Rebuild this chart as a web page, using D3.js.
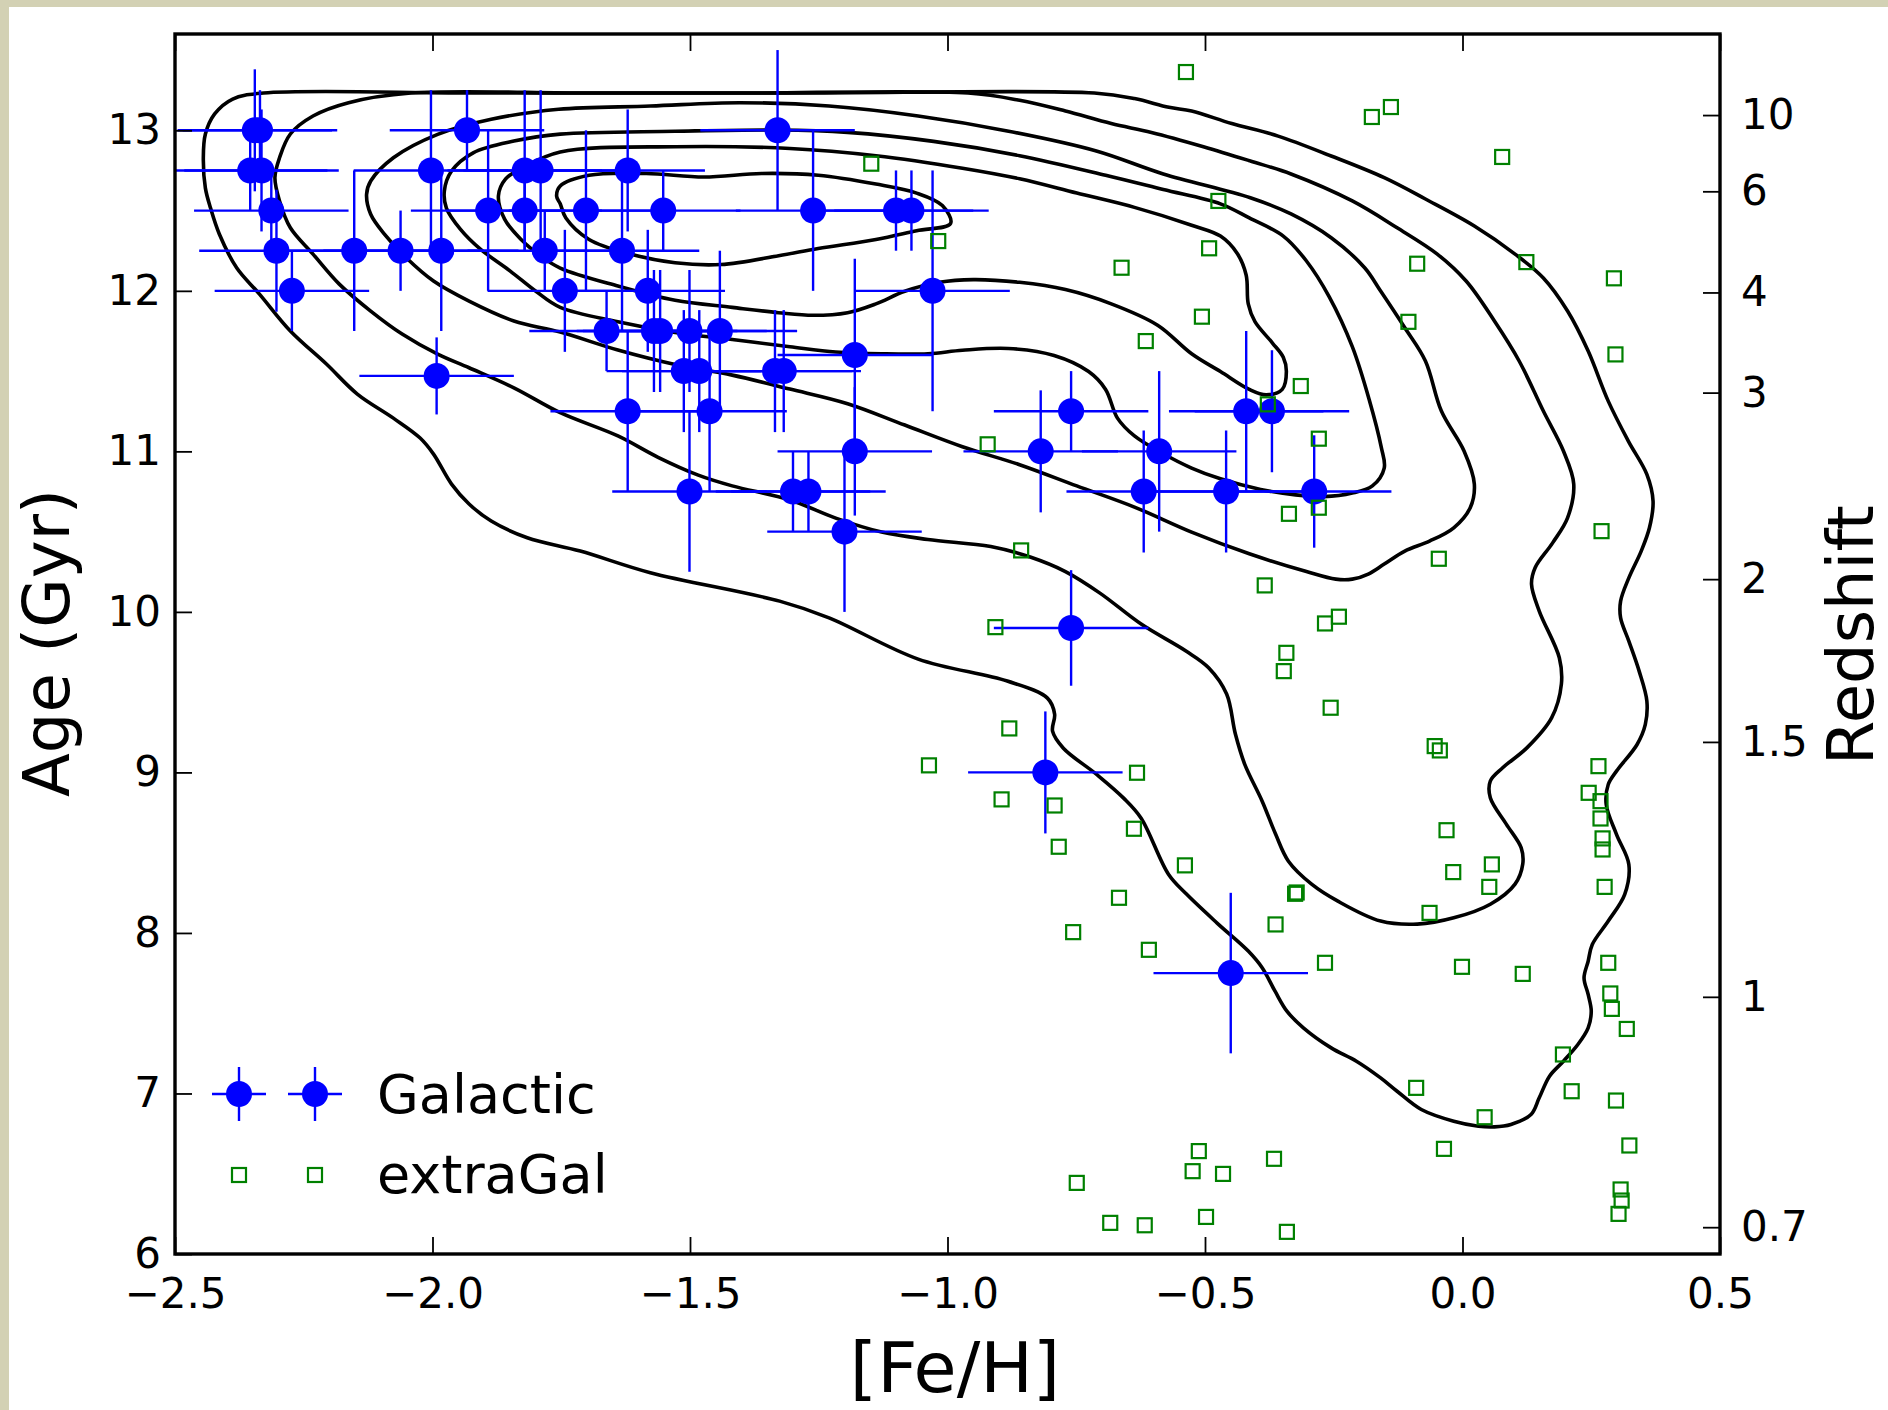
<!DOCTYPE html>
<html>
<head>
<meta charset="utf-8">
<script src="https://cdn.jsdelivr.net/npm/d3@7"></script>
<style>
    html, body { margin: 0; padding: 0; background: #fff; }
    svg { display: block; font-family: "DejaVu Sans", sans-serif; }
</style>
</head>
<body>
<div id="chart"></div>
<script>
// Galactic clusters: [Fe/H], age (Gyr) and their errors
var galFeH = [-2.345, -2.335, -1.933, -1.330,
    -2.354, -2.332, -2.003, -1.821, -1.790, -1.621,
    -2.313, -1.892, -1.821, -1.702, -1.552, -1.261, -1.100, -1.070,
    -2.303, -2.152, -2.062, -1.983, -1.782, -1.632,
    -2.273, -1.743, -1.582, -1.029,
    -1.662, -1.570, -1.558, -1.501, -1.442,
    -1.180,
    -1.512, -1.482, -1.335, -1.318,
    -1.992,
    -1.621, -1.462, -0.760, -0.420, -0.370,
    -1.180, -0.819, -0.589,
    -1.501, -1.300, -1.270, -0.619, -0.459, -0.288,
    -1.200, -0.760, -0.810, -0.450];
var galAge = [13, 13, 13, 13,
    12.75, 12.75, 12.75, 12.75, 12.75, 12.75,
    12.5, 12.5, 12.5, 12.5, 12.5, 12.5, 12.5, 12.5,
    12.25, 12.25, 12.25, 12.25, 12.25, 12.25,
    12, 12, 12, 12,
    11.75, 11.75, 11.75, 11.75, 11.75,
    11.6,
    11.5, 11.5, 11.5, 11.5,
    11.47,
    11.25, 11.25, 11.25, 11.25, 11.25,
    11, 11, 11,
    10.75, 10.75, 10.75, 10.75, 10.75, 10.75,
    10.5, 9.9, 9.0, 7.75];
var galAgeErr = [0.38, 0.25, 0.25, 0.5,
    0.25, 0.38, 0.5, 0.5, 0.5, 0.38,
    0.25, 0.5, 0.25, 0.5, 0.25, 0.5, 0.25, 0.25,
    0.38, 0.5, 0.25, 0.5, 0.25, 0.5,
    0.25, 0.38, 0.38, 0.75,
    0.25, 0.38, 0.38, 0.38, 0.5,
    0.6,
    0.38, 0.38, 0.38, 0.38,
    0.24,
    0.5, 0.5, 0.25, 0.5, 0.38,
    0.4, 0.38, 0.5,
    0.5, 0.25, 0.25, 0.38, 0.38, 0.35,
    0.5, 0.36, 0.38, 0.5];
var galFeHErr = [0.15, 0.15, 0.15, 0.15,
    0.15, 0.15, 0.15, 0.15, 0.15, 0.15,
    0.15, 0.15, 0.15, 0.15, 0.15, 0.15, 0.15, 0.15,
    0.15, 0.15, 0.15, 0.15, 0.15, 0.15,
    0.15, 0.15, 0.15, 0.15,
    0.15, 0.15, 0.15, 0.15, 0.15,
    0.15,
    0.15, 0.15, 0.15, 0.15,
    0.15,
    0.15, 0.15, 0.15, 0.15, 0.15,
    0.15, 0.15, 0.15,
    0.15, 0.15, 0.15, 0.15, 0.15, 0.15,
    0.15, 0.15, 0.15, 0.15];

// extragalactic sample
var exFeH = [-0.537, -0.176, -0.139, 0.077, -1.148, -0.474, -1.018, -0.492, -0.662, -0.088,
    0.124, 0.294, -0.506, -0.105, -0.615, 0.297, -0.314, -0.378, -0.922, -0.279,
    -0.337, -0.279, 0.270, -0.857, -0.046, -0.384, -0.907, -0.267, -0.240, -0.342,
    -0.347, -0.256, -1.036, -0.880, -0.895, -0.792, -0.632, -0.638, -0.784, -0.539,
    -0.667, -0.325, -0.322, -0.363, -0.756, -0.609, -0.054, -0.044, 0.264, 0.245,
    0.268, 0.268, 0.272, 0.272, 0.276, -0.031, 0.057, -0.018, 0.052, -0.064,
    -0.267, -0.001, 0.117, 0.283, 0.287, 0.290, 0.319, 0.195, -0.090, 0.212,
    0.298, 0.043, 0.324, -0.036, -0.366, 0.307, 0.309, 0.303, -0.341, -0.512,
    -0.524, -0.465, -0.749, -0.684, -0.617, -0.498];
var exAge = [13.363, 13.083, 13.145, 12.834, 12.792, 12.560, 12.310, 12.265, 12.144, 12.169,
    12.179, 12.078, 11.839, 11.807, 11.687, 11.604, 11.407, 11.293, 11.044, 11.079,
    10.611, 10.649, 10.503, 10.383, 10.331, 10.165, 9.905, 9.928, 9.970, 9.745,
    9.631, 9.403, 9.044, 9.274, 8.832, 8.794, 8.998, 8.649, 8.537, 8.421,
    8.219, 8.244, 8.252, 8.053, 8.005, 7.895, 9.164, 9.137, 9.039, 8.873,
    8.821, 8.713, 8.589, 8.520, 8.287, 8.640, 8.427, 8.379, 8.287, 8.125,
    7.814, 7.789, 7.745, 7.814, 7.623, 7.527, 7.402, 7.243, 7.035, 7.014,
    6.956, 6.852, 6.676, 6.655, 6.593, 6.402, 6.333, 6.250, 6.138, 6.641,
    6.516, 6.499, 6.443, 6.194, 6.179, 6.231];

// density contours, [Fe/H, age] pairs, outermost first
var contour1 = [[-0.715, 13.232], [-0.637, 13.198], [-0.570, 13.143], [-0.526, 13.120], [-0.448, 13.042], [-0.358, 12.964], [-0.255, 12.840], [-0.152, 12.705], [-0.072, 12.572], [0.023, 12.404], [0.102, 12.229], [0.157, 12.080], [0.204, 11.874], [0.244, 11.625], [0.283, 11.313], [0.322, 11.064], [0.358, 10.857], [0.370, 10.690], [0.363, 10.524], [0.347, 10.379], [0.323, 10.212], [0.307, 10.067], [0.307, 9.963], [0.323, 9.818], [0.343, 9.631], [0.358, 9.444], [0.355, 9.299], [0.339, 9.174], [0.299, 9.008], [0.283, 8.925], [0.279, 8.801], [0.299, 8.614], [0.323, 8.427], [0.315, 8.240], [0.283, 8.074], [0.252, 7.928], [0.244, 7.824], [0.236, 7.720], [0.244, 7.617], [0.250, 7.513], [0.244, 7.409], [0.224, 7.305], [0.196, 7.201], [0.169, 7.108], [0.149, 6.973], [0.133, 6.869], [0.094, 6.807], [0.062, 6.792], [0.031, 6.796], [-0.017, 6.827], [-0.080, 6.900], [-0.127, 7.014], [-0.159, 7.097], [-0.206, 7.201], [-0.255, 7.284], [-0.309, 7.409], [-0.341, 7.513], [-0.364, 7.637], [-0.389, 7.783], [-0.416, 7.887], [-0.476, 8.060], [-0.536, 8.242], [-0.571, 8.366], [-0.624, 8.715], [-0.658, 8.840], [-0.711, 8.989], [-0.775, 9.151], [-0.796, 9.257], [-0.792, 9.363], [-0.806, 9.463], [-0.884, 9.569], [-1.057, 9.706], [-1.230, 9.963], [-1.326, 10.067], [-1.577, 10.244], [-1.713, 10.379], [-1.816, 10.462], [-1.886, 10.566], [-1.929, 10.672], [-1.963, 10.796], [-1.998, 10.983], [-2.024, 11.083], [-2.076, 11.207], [-2.146, 11.357], [-2.206, 11.544], [-2.276, 11.750], [-2.336, 11.980], [-2.380, 12.142], [-2.414, 12.354], [-2.431, 12.516], [-2.441, 12.640], [-2.445, 12.827], [-2.441, 12.977], [-2.423, 13.102], [-2.388, 13.195], [-2.328, 13.232], [-1.900, 13.232], [-1.300, 13.232]];
var contour2 = [[-2.042, 13.232], [-2.163, 13.172], [-2.232, 13.089], [-2.276, 12.977], [-2.297, 12.829], [-2.306, 12.705], [-2.297, 12.560], [-2.276, 12.393], [-2.232, 12.229], [-2.181, 12.042], [-2.120, 11.874], [-2.059, 11.731], [-1.990, 11.606], [-1.929, 11.521], [-1.842, 11.396], [-1.752, 11.241], [-1.640, 11.096], [-1.562, 10.963], [-1.484, 10.852], [-1.418, 10.785], [-1.306, 10.697], [-1.217, 10.584], [-1.128, 10.497], [-1.038, 10.451], [-0.916, 10.407], [-0.838, 10.340], [-0.771, 10.251], [-0.704, 10.117], [-0.624, 9.924], [-0.537, 9.756], [-0.493, 9.652], [-0.458, 9.488], [-0.441, 9.239], [-0.423, 9.052], [-0.389, 8.821], [-0.363, 8.616], [-0.338, 8.447], [-0.293, 8.304], [-0.242, 8.198], [-0.159, 8.074], [-0.088, 8.055], [-0.017, 8.094], [0.054, 8.179], [0.102, 8.304], [0.117, 8.429], [0.114, 8.530], [0.085, 8.678], [0.054, 8.842], [0.054, 8.946], [0.078, 9.029], [0.125, 9.153], [0.173, 9.340], [0.192, 9.550], [0.188, 9.714], [0.149, 10.005], [0.134, 10.173], [0.141, 10.275], [0.175, 10.430], [0.204, 10.586], [0.216, 10.796], [0.196, 11.002], [0.157, 11.251], [0.110, 11.563], [0.062, 11.812], [0.007, 12.061], [-0.049, 12.229], [-0.127, 12.393], [-0.214, 12.560], [-0.333, 12.728], [-0.412, 12.809], [-0.503, 12.898], [-0.604, 12.987], [-0.682, 13.042], [-0.771, 13.120], [-0.860, 13.187], [-0.960, 13.232], [-1.400, 13.232], [-1.700, 13.232]];
var contour3 = [[-2.128, 12.601], [-2.120, 12.477], [-2.093, 12.352], [-2.051, 12.206], [-1.998, 12.061], [-1.929, 11.936], [-1.842, 11.812], [-1.752, 11.743], [-1.640, 11.631], [-1.529, 11.541], [-1.418, 11.475], [-1.306, 11.388], [-1.194, 11.297], [-1.083, 11.164], [-0.971, 11.029], [-0.860, 10.917], [-0.749, 10.785], [-0.637, 10.653], [-0.526, 10.497], [-0.414, 10.362], [-0.303, 10.251], [-0.246, 10.204], [-0.214, 10.204], [-0.183, 10.236], [-0.152, 10.298], [-0.112, 10.379], [-0.064, 10.441], [-0.017, 10.524], [0.015, 10.649], [0.023, 10.796], [0.003, 11.002], [-0.041, 11.251], [-0.072, 11.563], [-0.112, 11.770], [-0.159, 11.999], [-0.190, 12.144], [-0.255, 12.331], [-0.333, 12.479], [-0.412, 12.580], [-0.581, 12.728], [-0.711, 12.871], [-0.884, 12.996], [-1.057, 13.089], [-1.230, 13.151], [-1.404, 13.172], [-1.577, 13.151], [-1.755, 13.131], [-1.886, 13.069], [-1.990, 12.975], [-2.076, 12.829], [-2.120, 12.684]];
var contour4 = [[-1.977, 12.622], [-1.963, 12.746], [-1.921, 12.860], [-1.842, 12.933], [-1.752, 12.976], [-1.529, 12.994], [-1.330, 13.002], [-1.194, 12.987], [-1.027, 12.931], [-0.860, 12.842], [-0.693, 12.720], [-0.581, 12.631], [-0.470, 12.542], [-0.414, 12.454], [-0.348, 12.341], [-0.303, 12.186], [-0.259, 11.964], [-0.214, 11.652], [-0.181, 11.320], [-0.158, 11.029], [-0.152, 10.896], [-0.175, 10.785], [-0.214, 10.740], [-0.269, 10.718], [-0.324, 10.729], [-0.392, 10.763], [-0.470, 10.829], [-0.526, 10.896], [-0.581, 10.985], [-0.637, 11.096], [-0.670, 11.207], [-0.693, 11.386], [-0.726, 11.497], [-0.793, 11.597], [-0.882, 11.641], [-0.971, 11.630], [-1.038, 11.608], [-1.128, 11.608], [-1.217, 11.619], [-1.306, 11.652], [-1.418, 11.697], [-1.529, 11.741], [-1.640, 11.808], [-1.752, 11.897], [-1.800, 11.999], [-1.849, 12.123], [-1.907, 12.260], [-1.946, 12.385], [-1.973, 12.516]];
var contour5 = [[-1.872, 12.591], [-1.858, 12.697], [-1.825, 12.767], [-1.752, 12.865], [-1.529, 12.898], [-1.306, 12.887], [-1.139, 12.842], [-0.971, 12.764], [-0.860, 12.698], [-0.749, 12.609], [-0.637, 12.520], [-0.526, 12.409], [-0.470, 12.341], [-0.437, 12.231], [-0.420, 12.097], [-0.416, 11.919], [-0.403, 11.808], [-0.369, 11.675], [-0.348, 11.586], [-0.342, 11.497], [-0.350, 11.386], [-0.381, 11.352], [-0.414, 11.386], [-0.470, 11.497], [-0.526, 11.608], [-0.592, 11.786], [-0.682, 11.919], [-0.771, 12.008], [-0.860, 12.053], [-0.950, 12.070], [-1.016, 12.053], [-1.083, 11.997], [-1.139, 11.919], [-1.194, 11.864], [-1.261, 11.848], [-1.328, 11.864], [-1.418, 11.897], [-1.529, 11.941], [-1.640, 12.030], [-1.752, 12.142], [-1.790, 12.217], [-1.829, 12.323], [-1.860, 12.447]];
var contour6 = [[-1.759, 12.590], [-1.752, 12.653], [-1.696, 12.720], [-1.585, 12.731], [-1.473, 12.709], [-1.361, 12.731], [-1.251, 12.720], [-1.139, 12.665], [-1.060, 12.609], [-1.010, 12.531], [-0.994, 12.420], [-1.060, 12.375], [-1.139, 12.320], [-1.251, 12.264], [-1.328, 12.219], [-1.440, 12.164], [-1.529, 12.175], [-1.618, 12.231], [-1.696, 12.320], [-1.741, 12.454], [-1.752, 12.542]];

// axis ticks
var fehTicks = [-2.5, -2.0, -1.5, -1.0, -0.5, 0.0, 0.5];
var ageTicks = [6, 7, 8, 9, 10, 11, 12, 13];
var zTickLabels = ["10", "6", "4", "3", "2", "1.5", "1", "0.7"];
var zTickAges = [13.095, 12.62, 11.99, 11.366, 10.204, 9.19, 7.602, 6.167];

var W = 1888, H = 1410;
var margin = {top: 34, right: 168, bottom: 156, left: 175};
var width = W - margin.left - margin.right;
var height = H - margin.top - margin.bottom;

var svg = d3.select("#chart").append("svg")
    .attr("width", W)
    .attr("height", H);

svg.append("rect").attr("width", W).attr("height", H).attr("fill", "#ffffff");
// beige page edge
svg.append("rect").attr("x", 0).attr("y", 0).attr("width", W).attr("height", 7).attr("fill", "#d3d1b4");
svg.append("rect").attr("x", 0).attr("y", 0).attr("width", 9).attr("height", H).attr("fill", "#d3d1b4");

var g = svg.append("g")
    .attr("transform", "translate(" + margin.left + "," + margin.top + ")");

var x = d3.scaleLinear().domain([-2.5, 0.5]).range([0, width]);
var y = d3.scaleLinear().domain([6, 13.6]).range([height, 0]);

g.append("clipPath").attr("id", "plotclip")
    .append("rect").attr("width", width).attr("height", height);

var plot = g.append("g").attr("clip-path", "url(#plotclip)");

//Contours
var contourLine = d3.line()
    .x(function (d) { return x(d[0]); })
    .y(function (d) { return y(d[1]); })
    .curve(d3.curveCatmullRomClosed.alpha(0.5));

plot.selectAll(".contour")
    .data([contour1, contour2, contour3, contour4, contour5, contour6])
    .enter().append("path")
    .attr("class", "contour")
    .attr("d", contourLine)
    .attr("fill", "none")
    .attr("stroke", "#000")
    .attr("stroke-width", 3.6)
    .attr("stroke-linejoin", "round");

//Galactic points with error bars
var galIdx = d3.range(galFeH.length);
var bars = plot.append("g").attr("stroke", "#0000ff").attr("stroke-width", 2.4);
bars.selectAll(".xerr").data(galIdx).enter().append("line")
    .attr("x1", function (i) { return x(galFeH[i] - galFeHErr[i]); })
    .attr("x2", function (i) { return x(galFeH[i] + galFeHErr[i]); })
    .attr("y1", function (i) { return y(galAge[i]); })
    .attr("y2", function (i) { return y(galAge[i]); });
bars.selectAll(".yerr").data(galIdx).enter().append("line")
    .attr("x1", function (i) { return x(galFeH[i]); })
    .attr("x2", function (i) { return x(galFeH[i]); })
    .attr("y1", function (i) { return y(galAge[i] - galAgeErr[i]); })
    .attr("y2", function (i) { return y(galAge[i] + galAgeErr[i]); });
plot.append("g").selectAll("circle").data(galIdx).enter().append("circle")
    .attr("cx", function (i) { return x(galFeH[i]); })
    .attr("cy", function (i) { return y(galAge[i]); })
    .attr("r", 13)
    .attr("fill", "#0000ff");

//Extragalactic squares
var sq = 14;
plot.append("g").selectAll("rect").data(d3.range(exFeH.length)).enter().append("rect")
    .attr("x", function (i) { return x(exFeH[i]) - sq / 2; })
    .attr("y", function (i) { return y(exAge[i]) - sq / 2; })
    .attr("width", sq)
    .attr("height", sq)
    .attr("fill", "none")
    .attr("stroke", "#008000")
    .attr("stroke-width", 2.2);

//Axes
var tickFont = "42px";
var xAxis = g.append("g").attr("transform", "translate(0," + height + ")")
    .call(d3.axisBottom(x).tickValues(fehTicks).tickFormat(d3.format(".1f")).tickSize(-17).tickPadding(24));
var xTop = g.append("g")
    .call(d3.axisTop(x).tickValues(fehTicks).tickFormat("").tickSize(-17));
var yAxis = g.append("g")
    .call(d3.axisLeft(y).tickValues(ageTicks).tickFormat(d3.format("d")).tickSize(-17).tickPadding(14));
var zAxis = g.append("g").attr("transform", "translate(" + width + ",0)")
    .call(d3.axisRight(y).tickValues(zTickAges).tickFormat(function (d, i) { return zTickLabels[i]; }).tickSize(-17).tickPadding(21));

[xAxis, xTop, yAxis, zAxis].forEach(function (a) {
    a.select(".domain").remove();
    a.selectAll(".tick line").attr("stroke", "#000").attr("stroke-width", 1.8);
    a.selectAll(".tick text")
        .attr("fill", "#000")
        .attr("font-size", tickFont)
        .attr("font-family", "DejaVu Sans");
});

g.append("rect")
    .attr("width", width)
    .attr("height", height)
    .attr("fill", "none")
    .attr("stroke", "#000")
    .attr("stroke-width", 3.4);

//Axis titles
svg.append("text")
    .text("[Fe/H]")
    .attr("x", 955)
    .attr("y", 1392)
    .attr("text-anchor", "middle")
    .attr("font-size", "70px")
    .attr("fill", "#000");

svg.append("text")
    .text("Age (Gyr)")
    .attr("transform", "translate(69,643) rotate(-90)")
    .attr("text-anchor", "middle")
    .attr("font-size", "64px")
    .attr("fill", "#000");

svg.append("text")
    .text("Redshift")
    .attr("transform", "translate(1873,635) rotate(-90)")
    .attr("text-anchor", "middle")
    .attr("font-size", "64px")
    .attr("fill", "#000");

//Legend
var legend = svg.append("g");
var legX = [239, 315];
legX.forEach(function (lx) {
    legend.append("line").attr("x1", lx - 27).attr("x2", lx + 27).attr("y1", 1094).attr("y2", 1094)
        .attr("stroke", "#0000ff").attr("stroke-width", 2.4);
    legend.append("line").attr("x1", lx).attr("x2", lx).attr("y1", 1067).attr("y2", 1121)
        .attr("stroke", "#0000ff").attr("stroke-width", 2.4);
    legend.append("circle").attr("cx", lx).attr("cy", 1094).attr("r", 13).attr("fill", "#0000ff");
    legend.append("rect").attr("x", lx - sq / 2).attr("y", 1175 - sq / 2).attr("width", sq).attr("height", sq)
        .attr("fill", "none").attr("stroke", "#008000").attr("stroke-width", 2.2);
});
legend.append("text").text("Galactic").attr("x", 377).attr("y", 1113)
    .attr("font-size", "54px").attr("fill", "#000");
legend.append("text").text("extraGal").attr("x", 377).attr("y", 1193)
    .attr("font-size", "54px").attr("fill", "#000");
</script>
</body>
</html>
